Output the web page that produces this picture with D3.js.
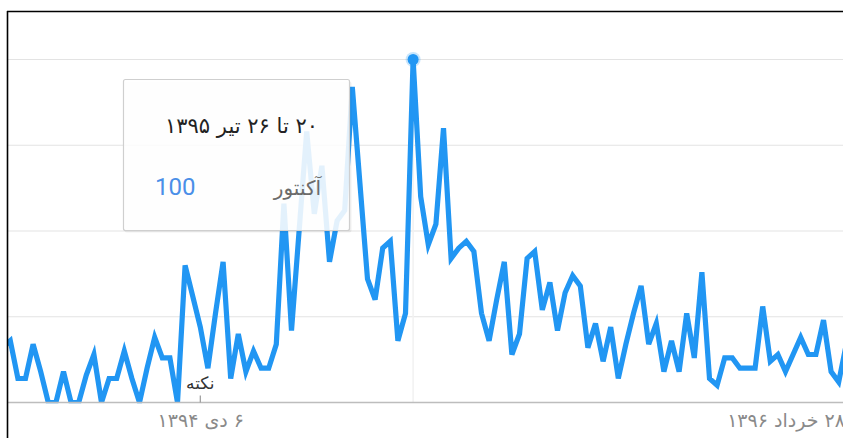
<!DOCTYPE html>
<html><head><meta charset="utf-8">
<script src="https://cdn.jsdelivr.net/npm/d3@7"></script>
<style>
html,body{margin:0;padding:0;background:#fff;overflow:hidden}
.fa{font-family:Tahoma,"DejaVu Sans",sans-serif;direction:rtl}
</style>
</head><body>
<svg id="chart" width="843" height="438"></svg>
<script>
// ---- data ----
const firstWeek = [2015, 5, 28];           // first (partly hidden) week, 2015-06-28
const values = [16,18,7,7,17,9,0,0,9,0,0,8,14,0,7,7,15,7,0,10,19,13,13,0,40,31,
  22,10,26,41,7,20,9,15,10,10,17,58,21,50,79,55,69,41,53,56,92,64,36,30,45,47,18,26,
  100,60,46,52,80,42,45,47,44,26,18,30,41,14,20,42,44,27,35,21,32,37,34,16,23,12,22,
  7,17,26,34,17,23,9,18,9,26,13,38,7,5,13,13,10,10,10,28,12,14,9,14,19,14,14,24,9,6,17];
const seriesName = "آکنتور";
const yTicks = [0,25,50,75,100];
const xTickDates = [[2015,11,27],[2017,5,18]];
const xTickLabels = ["۶ دی ۱۳۹۴","۲۸ خرداد ۱۳۹۶"];
const noteDate = [2015,11,27];
const noteLabel = "نکته";
const tooltipTitle = "۲۰ تا ۲۶ تیر ۱۳۹۵";

// ---- build ----
const utc = a => new Date(Date.UTC(a[0],a[1],a[2]));
const start = utc(firstWeek);
const data = values.map((v,i)=>({date:d3.utcWeek.offset(start,i), value:v}));

const svg = d3.select("#chart");
const W = 843, H = 438;
const padL = 8, padR = 843, padT = 12;

const x = d3.scaleUtc().domain([data[0].date, data[data.length-1].date]).range([2.7, 846.3]);
const y = d3.scaleLinear().domain([0,100]).range([402.5, 59.5]);

svg.append("defs").append("clipPath").attr("id","clip")
  .append("rect").attr("x",padL).attr("y",padT).attr("width",padR-padL).attr("height",y(0)+0.8-padT);

// gridlines
svg.append("g").selectAll("line").data(yTicks.filter(d=>d>0)).join("line")
  .attr("x1",padL).attr("x2",padR).attr("y1",d=>y(d)).attr("y2",d=>y(d))
  .attr("stroke","#e3e3e3").attr("stroke-width",1.2);

// hover guide line
const peakI = d3.maxIndex(data,d=>d.value);
const peak = data[peakI];
svg.append("line").attr("x1",x(peak.date)).attr("x2",x(peak.date))
  .attr("y1",y(100)).attr("y2",y(0)).attr("stroke","#f1f1f1").attr("stroke-width",1.5);

// line
const line = d3.line().x(d=>x(d.date)).y(d=>y(d.value));
svg.append("path").datum(data).attr("clip-path","url(#clip)")
  .attr("d",line).attr("fill","none").attr("stroke","#2196f3")
  .attr("stroke-width",5.2).attr("stroke-linejoin","miter");

// x axis
const xAxis = d3.axisBottom(x).tickValues(xTickDates.map(utc))
  .tickFormat((d,i)=>xTickLabels[i]).tickSize(0).tickPadding(0);
const gx = svg.append("g").attr("transform",`translate(0,${y(0)})`).call(xAxis);
gx.select(".domain").remove();
gx.selectAll("text").attr("class","fa").attr("dy",null).attr("y",24)
  .attr("text-anchor","middle").attr("fill","#8a8a8a").style("font-size","19px");
svg.append("line").attr("x1",padL).attr("x2",padR).attr("y1",y(0)).attr("y2",y(0))
  .attr("stroke","#bdbdbd").attr("stroke-width",1.6);

// note marker
const nx = x(utc(noteDate));
svg.append("line").attr("x1",nx).attr("x2",nx).attr("y1",y(0)-7).attr("y2",y(0))
  .attr("stroke","#999").attr("stroke-width",1.2);
svg.append("text").attr("class","fa").attr("x",nx).attr("y",389)
  .attr("text-anchor","middle").style("direction","ltr").attr("fill","#333")
  .style("font-size","17px").text(noteLabel);

// peak dot
svg.append("circle").attr("cx",x(peak.date)).attr("cy",y(peak.value)).attr("r",7.5)
  .attr("fill","#2196f3").attr("opacity",0.25);
svg.append("circle").attr("cx",x(peak.date)).attr("cy",y(peak.value)).attr("r",5.5)
  .attr("fill","#2196f3");

// tooltip
const tip = svg.append("g");
tip.append("rect").attr("x",124.5).attr("y",81.5).attr("width",227).attr("height",151)
  .attr("rx",2).attr("fill","#000").attr("opacity",0.06);
tip.append("rect").attr("x",123.5).attr("y",79.5).attr("width",226).attr("height",151)
  .attr("rx",2).attr("fill","#fff").attr("fill-opacity",0.88).attr("stroke","#cfcfcf").attr("stroke-width",1.2);
tip.append("text").attr("class","fa").attr("x",318).attr("y",133)
  .attr("text-anchor","start").attr("fill","#222").style("font-size","21px").text(tooltipTitle);
tip.append("text").attr("class","fa").attr("x",321).attr("y",195)
  .attr("text-anchor","start").attr("fill","#6b6b6b").style("font-size","20px").text(seriesName);
tip.append("text").attr("x",155).attr("y",195).attr("text-anchor","start")
  .attr("fill","#4a8fe8").style("font-family","Roboto, sans-serif").style("font-size","24px")
  .text(peak.value);

// frame (top and left black border)
svg.append("line").attr("x1",7).attr("x2",W).attr("y1",11.5).attr("y2",11.5)
  .attr("stroke","#000").attr("stroke-width",1.6);
svg.append("line").attr("x1",7.5).attr("x2",7.5).attr("y1",11).attr("y2",H)
  .attr("stroke","#000").attr("stroke-width",1.6);
</script>
</body></html>
